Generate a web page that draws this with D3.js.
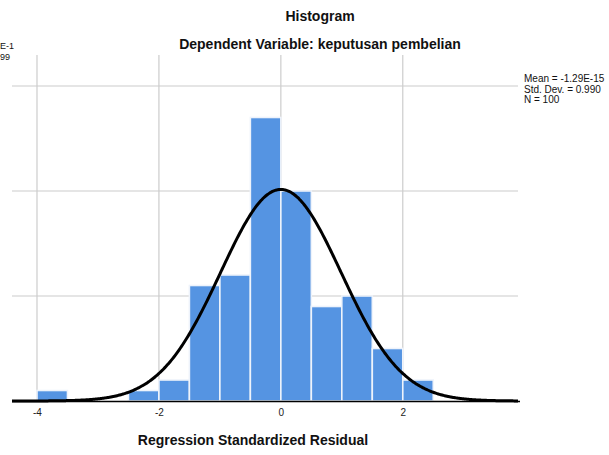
<!DOCTYPE html>
<html><head><meta charset="utf-8">
<script src="https://cdn.jsdelivr.net/npm/d3@7"></script>
<style>body{margin:0;background:#fff;} text{font-family:"Liberation Sans",Arial,sans-serif;}</style>
</head><body><svg id="c" width="609" height="455"></svg>
<script>
const binStarts = [-4.0,-2.5,-2.0,-1.5,-1.0,-0.5,0.0,0.5,1.0,1.5,2.0];
const counts    = [1,1,2,11,12,27,20,9,10,5,2];
const binWidth = 0.5;
const xTicks = [-4,-2,0,2];
const xTickLabels = ["-4","-2","0","2"];
const yGrid = [10,20,30];
const stats = {mean:-1.29e-15, sd:0.990, n:100};
const legendLines = ["Mean = -1.29E-15","Std. Dev. = 0.990","N = 100"];

const svg = d3.select("#c");
const L=12, R=518, T=55, B=401;
const x = d3.scaleLinear().domain([-4.41,3.89]).range([L,R]);
const y = d3.scaleLinear().domain([0,32.95]).range([B,T]);

// gridlines
svg.append("g").selectAll("line").data(yGrid).join("line")
  .attr("x1",L).attr("x2",R).attr("y1",d=>y(d)).attr("y2",d=>y(d))
  .attr("stroke","#cccccc").attr("stroke-width",1.2);
svg.append("g").selectAll("line").data(xTicks).join("line")
  .attr("x1",d=>x(d)).attr("x2",d=>x(d)).attr("y1",T).attr("y2",B)
  .attr("stroke","#cccccc").attr("stroke-width",1.2);

// bars
svg.append("g").selectAll("rect").data(binStarts).join("rect")
  .attr("x",(d)=>x(d)).attr("width",(d)=>x(d+binWidth)-x(d))
  .attr("y",(d,i)=>y(counts[i])).attr("height",(d,i)=>B-y(counts[i]))
  .attr("fill","#5594e2").attr("stroke","#eef3fb").attr("stroke-width",1.6);

// axis baseline
svg.append("line").attr("x1",L).attr("x2",R+2).attr("y1",B+0.5).attr("y2",B+0.5)
  .attr("stroke","#000").attr("stroke-width",1.5);

// normal curve
const pts = d3.range(0,401).map(i=>{const v=-4.41+i*(3.89+4.41)/400;
  const pdf=Math.exp(-0.5*((v-stats.mean)/stats.sd)**2)/(stats.sd*Math.sqrt(2*Math.PI));
  return [v, stats.n*binWidth*pdf];});
svg.append("path").datum(pts)
  .attr("d",d3.line().x(d=>x(d[0])).y(d=>y(d[1])).curve(d3.curveBasis))
  .attr("fill","none").attr("stroke","#000").attr("stroke-width",3);

// x ticks
const ax = svg.append("g").attr("transform",`translate(0,${B})`)
  .call(d3.axisBottom(x).tickValues(xTicks).tickSize(0).tickPadding(8).tickFormat((d,i)=>xTickLabels[i]));
ax.select(".domain").remove();
ax.selectAll("text").attr("font-size",10).attr("fill","#222").style("font-family","Liberation Sans, Arial");

// titles
svg.append("text").attr("x",320).attr("y",21).attr("text-anchor","middle")
  .attr("font-size",14).attr("font-weight","bold").attr("fill","#111").text("Histogram");
svg.append("text").attr("x",320).attr("y",49).attr("text-anchor","middle")
  .attr("font-size",14).attr("font-weight","bold").attr("fill","#111").text("Dependent Variable: keputusan pembelian");
svg.append("text").attr("x",253).attr("y",445).attr("text-anchor","middle")
  .attr("font-size",14).attr("font-weight","bold").attr("fill","#111").text("Regression Standardized Residual");

// legend
svg.append("g").selectAll("text").data(legendLines).join("text")
  .attr("x",524).attr("y",(d,i)=>82+i*10.5).attr("font-size",10).attr("fill","#111").text(d=>d);

// left-side remnants of the original (cropped) legend
svg.append("text").attr("x",0).attr("y",49).attr("font-size",9).attr("fill","#111").text("E-1");
svg.append("text").attr("x",0).attr("y",60).attr("font-size",9).attr("fill","#111").text("99");
</script></body></html>
